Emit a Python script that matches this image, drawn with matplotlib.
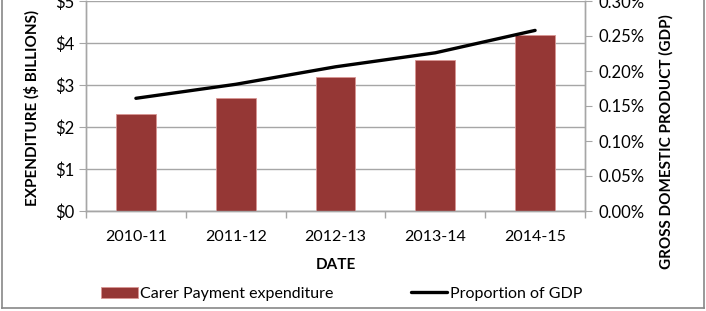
import matplotlib.pyplot as plt
import numpy as np
from matplotlib.lines import Line2D
from matplotlib.ticker import FuncFormatter

plt.rcParams['font.family'] = ['Lato', 'DejaVu Sans']

years = ["2010-11", "2011-12", "2012-13", "2013-14", "2014-15"]
expenditure = [2.3, 2.7, 3.2, 3.6, 4.2]          # $ billions
gdp_share = [0.161, 0.181, 0.206, 0.226, 0.258]  # % of GDP

bar_color = "#953735"
grid_color = "#a6a6a6"

fig = plt.figure(figsize=(7.06, 3.11), dpi=100)
ax = fig.add_axes([86 / 706, 100 / 311, 499 / 706, 210 / 311])
ax2 = ax.twinx()

x = np.arange(len(years))
ax.bar(x, expenditure, width=0.4, color=bar_color, edgecolor="#d99694",
       linewidth=0.6, zorder=3, label="Carer Payment expenditure")
ax2.plot(x, gdp_share, color="black", lw=2.4, solid_capstyle="round",
         label="Proportion of GDP")

ax.set_xlim(-0.5, len(years) - 0.5)
ax.set_ylim(0, 5)
ax2.set_ylim(0, 0.30)
ax.set_yticks(np.arange(0, 6, 1))
ax2.set_yticks(np.arange(0, 0.31, 0.05))
ax.yaxis.set_major_formatter(FuncFormatter(lambda v, p: f"${v:.0f}"))
ax2.yaxis.set_major_formatter(FuncFormatter(lambda v, p: f"{v:.2f}%"))

ax.set_xticks(x)
ax.set_xticklabels(years)
ax.set_xticks(np.arange(-0.5, len(years)), minor=True)
ax.tick_params(axis="x", which="major", length=0, labelsize=11.5, pad=14)
ax.tick_params(axis="x", which="minor", length=5, color=grid_color, width=1)
ax.tick_params(axis="y", length=5, color=grid_color, labelsize=12, pad=3)
ax2.tick_params(axis="y", length=5, color=grid_color, labelsize=12, pad=5)

ax.yaxis.grid(True, color=grid_color, lw=1)
ax.set_axisbelow(True)
for a in (ax, ax2):
    a.spines["top"].set_visible(False)
    for s in ("left", "right", "bottom"):
        a.spines[s].set_color(grid_color)
        a.spines[s].set_linewidth(1)

ax.set_xlabel("DATE", fontsize=11, fontweight="bold", labelpad=10)
ax.set_ylabel("EXPENDITURE ($ BILLIONS)", fontsize=11, fontweight="bold")
ax.yaxis.set_label_coords(-0.093, 0.49)
ax2.set_ylabel("GROSS DOMESTIC PRODUCT (GDP)", fontsize=11, fontweight="bold")
ax2.yaxis.set_label_coords(1.148, 0.33)

h1, l1 = ax.get_legend_handles_labels()
h2, l2 = ax2.get_legend_handles_labels()
fig.legend(h1 + h2, l1 + l2, loc="center", bbox_to_anchor=(0.484, 0.055),
           ncol=2, frameon=False, fontsize=11.5, handlelength=2.3,
           handletextpad=0.15, columnspacing=4.8)

# outer chart border
border = "#888888"
fig.add_artist(Line2D([2 / 706, 2 / 706], [3 / 311, 1], color=border, lw=1.2))
fig.add_artist(Line2D([704 / 706, 704 / 706], [3 / 311, 1], color=border, lw=1.2))
fig.add_artist(Line2D([2 / 706, 704 / 706], [3 / 311, 3 / 311], color=border, lw=1.2))

fig.savefig("out.png", dpi=100)
